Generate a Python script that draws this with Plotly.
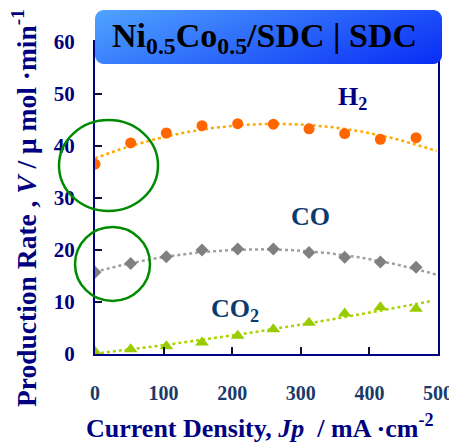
import base64
import struct
import zlib

import numpy as np
import plotly.graph_objects as go

# ---- data ----
current_density = [0, 52, 104, 156, 208, 260, 312, 364, 416, 468]
h2_rate = [36.5, 40.6, 42.5, 43.9, 44.3, 44.2, 43.3, 42.4, 41.3, 41.6]
co_rate = [15.7, 17.4, 18.7, 20.0, 20.2, 20.2, 19.5, 18.6, 17.7, 16.7]
co2_rate = [0.45, 0.9, 1.5, 2.2, 3.5, 4.75, 6.0, 7.8, 9.0, 8.7]
x_ticks = [0, 100, 200, 300, 400, 500]
y_ticks = [0, 10, 20, 30, 40, 50, 60]

# page body has an 8px margin; work in window pixels
OFF = 8
WIN_W, WIN_H = 457, 446
W, H = WIN_W - OFF, WIN_H - OFF
PL, PR, PT, PB = 95, 438, 42, 354          # plot area in window pixels
ML, MR, MT, MB = PL - OFF, W - (PR - OFF), PT - OFF, H - (PB - OFF)
PW, PH = PR - PL, PB - PT


def px(xp):
    return (xp - PL) / PW


def py(yp):
    return (PB - yp) / PH


SERIF = "Liberation Serif"
NAVY = "#000080"


def gradient_box_png(w, h, rad):
    yy, xx = np.mgrid[0:h, 0:w].astype(float) + 0.5
    t = xx / w
    s = yy / h
    d = np.clip(0.72 * t + 0.28 * s, 0, 1)[..., None]
    c0 = np.array([80, 164, 255.0])
    c1 = np.array([8, 44, 245.0])
    rgb = c0 * (1 - d) + c1 * d
    # rounded-corner alpha mask
    cx = np.clip(xx, rad, w - rad)
    cy = np.clip(yy, rad, h - rad)
    dist = np.hypot(xx - cx, yy - cy)
    alpha = np.clip(rad - dist + 0.5, 0, 1) * 255
    img = np.dstack([rgb, alpha]).round().astype(np.uint8)
    raw = b"".join(b"\x00" + img[i].tobytes() for i in range(h))

    def chunk(tag, data):
        return (struct.pack(">I", len(data)) + tag + data +
                struct.pack(">I", zlib.crc32(tag + data) & 0xFFFFFFFF))

    png = (b"\x89PNG\r\n\x1a\n" +
           chunk(b"IHDR", struct.pack(">IIBBBBB", w, h, 8, 6, 0, 0, 0)) +
           chunk(b"IDAT", zlib.compress(raw, 9)) + chunk(b"IEND", b""))
    return "data:image/png;base64," + base64.b64encode(png).decode()


fig = go.Figure()

series = [
    (h2_rate, "#FF6600", "#FFAA00", "circle", 11, 498),
    (co_rate, "#808080", "#A0A0A0", "diamond", 10, 498),
    (co2_rate, "#99CC00", "#AAD400", "triangle-up", 12, 488),
]
for vals, mcol, lcol, sym, sz, xend in series:
    xs = np.linspace(0, xend, 120)
    coef = np.polyfit(current_density, vals, 2)
    fig.add_trace(go.Scatter(x=xs, y=np.polyval(coef, xs), mode="lines",
                             line=dict(color=lcol, width=2.5, dash="dot"),
                             hoverinfo="skip", showlegend=False))
    fig.add_trace(go.Scatter(x=current_density, y=vals, mode="markers",
                             marker=dict(color=mcol, symbol=sym, size=sz,
                                         line=dict(width=0)),
                             showlegend=False))

axis_common = dict(showgrid=False, zeroline=False, showline=True, automargin=False,
                   linecolor=NAVY, linewidth=2, mirror=True,
                   ticks="inside", ticklen=7, tickwidth=1.5, tickcolor="#111133")

fig.update_xaxes(range=[0, 500], tickvals=x_ticks,
                 tickfont=dict(family=SERIF, size=20, color="#1a3a6a", weight="bold"),
                 ticklabelstandoff=20, **axis_common)
fig.update_yaxes(range=[0, 60], tickvals=y_ticks,
                 tickfont=dict(family=SERIF, size=21, color=NAVY, weight="bold"),
                 ticklabelstandoff=14, **axis_common)

# title box (rounded gradient rectangle)
bx0, bx1, by0, by1 = 95, 442, 10, 64
fig.add_layout_image(dict(source=gradient_box_png(bx1 - bx0, by1 - by0, 9),
                          xref="paper", yref="paper", x=px(bx0), y=py(by0),
                          sizex=px(bx1) - px(bx0), sizey=py(by0) - py(by1),
                          xanchor="left", yanchor="top", sizing="stretch", layer="above"))

# green circles
shapes = []
for cx0, cx1, cy0, cy1 in [(59, 158, 120, 211), (75, 150, 227, 301)]:
    shapes.append(dict(type="circle", xref="paper", yref="paper",
                       x0=px(cx0), x1=px(cx1), y0=py(cy1), y1=py(cy0),
                       line=dict(color="#008A00", width=2.5), layer="above"))
fig.update_layout(shapes=shapes)

annotations = [
    dict(text="<b>Ni<sub>0.5</sub>Co<sub>0.5</sub>/SDC | SDC</b>", x=px(264), y=py(38),
         font=dict(family=SERIF, size=34, color="black")),
    dict(text="<b>H<sub>2</sub></b>", x=px(352), y=py(98),
         font=dict(family=SERIF, size=26, color=NAVY)),
    dict(text="<b>CO</b>", x=px(310), y=py(216),
         font=dict(family=SERIF, size=26, color="#0B3A6E")),
    dict(text="<b>CO<sub>2</sub></b>", x=px(235), y=py(310),
         font=dict(family=SERIF, size=26, color="#0B3A6E")),
    dict(text="<b>Current Density, <i>Jp</i>  / mA ·cm<sup>-2</sup></b>", x=px(260), y=py(426),
         font=dict(family=SERIF, size=26, color=NAVY)),
    dict(text="<b>Production Rate , <i>V</i> / μ mol ·min<sup>-1</sup></b>", x=px(24), y=py(208),
         textangle=-90, font=dict(family=SERIF, size=27.5, color=NAVY)),
]
for a in annotations:
    a.update(xref="paper", yref="paper", showarrow=False, xanchor="center", yanchor="middle")
fig.update_layout(annotations=annotations)

fig.update_layout(width=W, height=H, margin=dict(l=ML, r=MR, t=MT, b=MB),
                  paper_bgcolor="white", plot_bgcolor="white")

fig.write_html("out.html")
